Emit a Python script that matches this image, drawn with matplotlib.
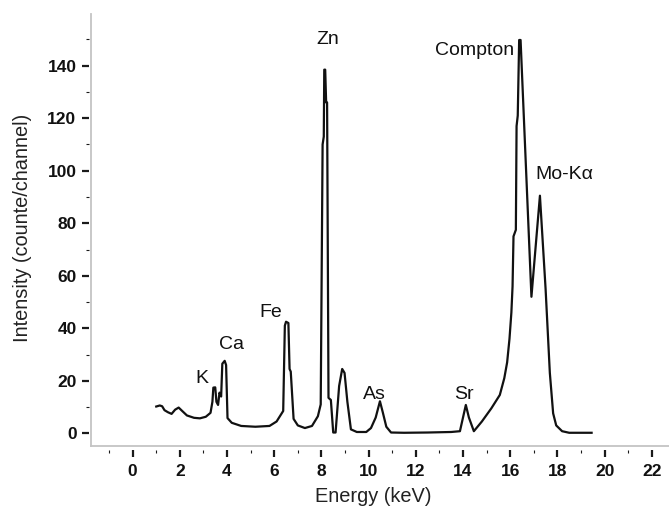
import matplotlib
matplotlib.use("Agg")
import matplotlib.pyplot as plt
from matplotlib.lines import Line2D
import numpy as np

# ---- data ----
energy = [1.0, 1.15, 1.25, 1.35, 1.5, 1.65, 1.8, 1.95, 2.1, 2.3, 2.6, 2.85, 3.1, 3.3,
          3.38, 3.42, 3.5, 3.55, 3.62, 3.68, 3.75, 3.8, 3.9, 3.96, 4.02, 4.2, 4.6,
          5.2, 5.8, 6.1, 6.38, 6.45, 6.5, 6.6, 6.65, 6.7, 6.82, 7.0, 7.3, 7.6, 7.85,
          7.97, 8.05, 8.1, 8.12, 8.16, 8.2, 8.24, 8.3, 8.4, 8.5, 8.6, 8.75, 8.88,
          8.98, 9.1, 9.25, 9.5, 9.9, 10.1, 10.3, 10.48, 10.6, 10.75, 10.95, 11.5,
          12.5, 13.5, 13.87, 14.0, 14.12, 14.25, 14.46, 14.8, 15.2, 15.56, 15.75,
          15.87, 15.97, 16.05, 16.1, 16.14, 16.2, 16.24, 16.27, 16.32, 16.38, 16.44,
          16.9, 17.26, 17.5, 17.68, 17.82, 17.95, 18.2, 18.5, 19.45]
intensity = [10.2, 10.6, 10.3, 8.8, 8.0, 7.4, 9.0, 9.8, 8.5, 6.8, 5.9, 5.7, 6.3, 7.8,
             12.0, 17.4, 17.5, 12.0, 10.8, 15.5, 14.0, 26.5, 27.6, 26.0, 5.8, 4.0, 2.8,
             2.5, 2.8, 4.5, 8.5, 41.0, 42.5, 42.0, 24.5, 23.5, 5.5, 3.0, 2.0, 2.8, 6.5,
             11.0, 110.0, 113.0, 138.5, 138.5, 126.0, 126.0, 13.5, 12.7, 0.3, 0.3, 18.0, 24.5,
             23.0, 12.0, 1.5, 0.5, 0.5, 2.0, 6.0, 12.2, 8.0, 2.5, 0.3, 0.2,
             0.3, 0.5, 0.8, 6.0, 10.8, 6.0, 0.8, 4.5, 9.5, 14.6, 21.0,
             27.0, 36.0, 46.0, 56.0, 75.0, 76.5, 77.5, 117.0, 121.0, 149.8, 149.8,
             52.0, 90.5, 55.0, 23.0, 7.6, 3.0, 0.8, 0.2, 0.2]

peak_labels = ["K", "Ca", "Fe", "Zn", "As", "Sr", "Compton", "Mo-K\u03b1"]
label_x = [2.94, 4.17, 5.84, 8.28, 10.26, 14.03, 14.47, 18.28]
label_y = [19.0, 32.0, 44.4, 148.2, 12.9, 12.9, 144.1, 96.7]

x_major = list(range(0, 23, 2))
x_minor = list(range(-1, 22, 2))
y_major = list(range(0, 141, 20))
y_minor = list(range(10, 151, 20))

# ---- figure ----
plt.rcParams['font.family'] = ['Liberation Sans', 'DejaVu Sans']
W, H = 669, 507
fig = plt.figure(figsize=(W / 100, H / 100), dpi=100)
L, B, R, T = 89, 450, 669, 14
ax = fig.add_axes([L / W, (H - B) / H, (R - L) / W, (B - T) / H])

ax.plot(energy, intensity, color='#111111', lw=1.6, solid_joinstyle='round')

ax.set_xlim(-1.85, 22.73)
ax.set_ylim(-6.36, 159.7)

for s in ax.spines.values():
    s.set_visible(False)

# gray axis lines, slightly detached from ticks
axw, axh = R - L, B - T
gx, gy = 2 / axw, 4 / axh
ax.add_line(Line2D([gx, gx], [gy, 1.0], transform=ax.transAxes, color='#c4c4c4',
                   lw=1.3, clip_on=False))
ax.add_line(Line2D([gx, 1.0], [gy, gy], transform=ax.transAxes, color='#c4c4c4',
                   lw=1.3, clip_on=False))

ax.set_xticks(x_major)
ax.set_xticks(x_minor, minor=True)
ax.set_yticks(y_major)
ax.set_yticks(y_minor, minor=True)
ax.set_xticklabels([str(v) for v in x_major])
ax.set_yticklabels([str(v) for v in y_major])

ax.tick_params(axis='both', which='major', direction='out', length=5, width=1.6,
               color='#1a1a1a', labelsize=12.5, labelcolor='#111111')
ax.tick_params(axis='both', which='minor', direction='out', length=2.2, width=0.8,
               color='#1a1a1a')
ax.tick_params(axis='x', which='major', pad=5)
ax.tick_params(axis='y', which='major', pad=4)
for lab in ax.get_xticklabels() + ax.get_yticklabels():
    lab.set_fontweight('bold')

ax.set_xlabel('Energy (keV)', fontsize=14.4, color='#222222')
ax.xaxis.label.set_va('baseline')
ax.xaxis.set_label_coords((373 - L) / axw, (B - 501.5) / axh)
ax.set_ylabel('Intensity (counte/channel)', fontsize=14.4, color='#222222', va='center')
ax.yaxis.set_label_coords((23 - L) / axw, (B - 227.5) / axh)

for t, x, y in zip(peak_labels, label_x, label_y):
    ax.text(x, y, t, fontsize=14, ha='center', va='baseline', color='#111111')

fig.savefig('out.png', dpi=100)
